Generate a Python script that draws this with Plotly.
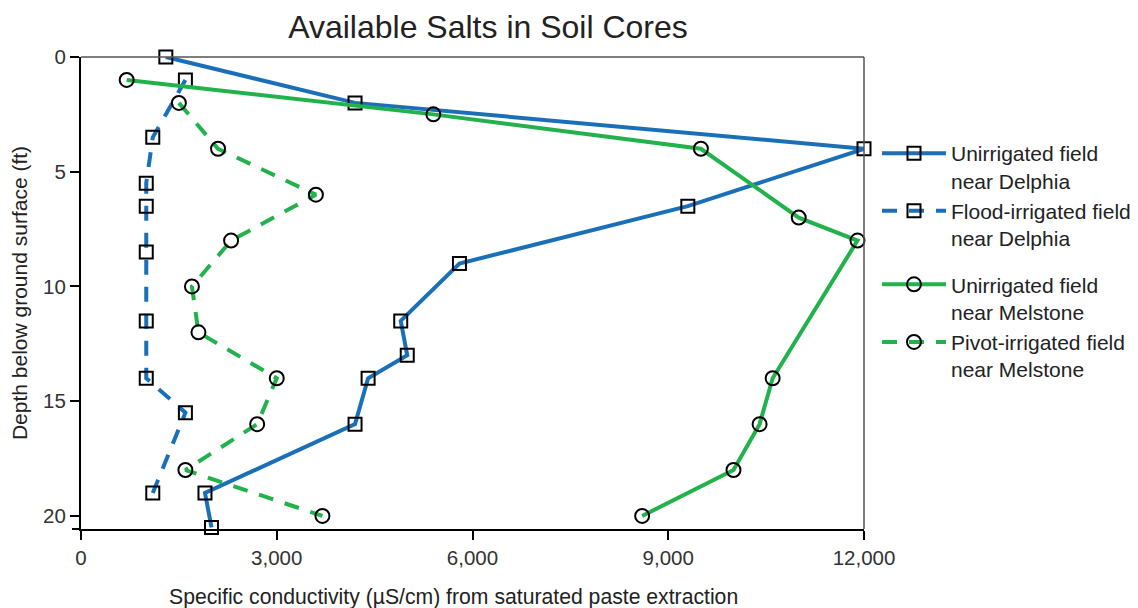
import plotly.graph_objects as go

# Unirrigated field near Delphia
ud_depth = [0, 2, 4, 6.5, 9, 11.5, 13, 14, 16, 19, 20.5]
ud_ec = [1300, 4200, 12000, 9300, 5800, 4900, 5000, 4400, 4200, 1900, 2000]

# Flood-irrigated field near Delphia
fd_depth = [1, 3.5, 5.5, 6.5, 8.5, 11.5, 14, 15.5, 19]
fd_ec = [1600, 1100, 1000, 1000, 1000, 1000, 1000, 1600, 1100]

# Unirrigated field near Melstone
um_depth = [1, 2.5, 4, 7, 8, 14, 16, 18, 20]
um_ec = [700, 5400, 9500, 11000, 11900, 10600, 10400, 10000, 8600]

# Pivot-irrigated field near Melstone
pm_depth = [2, 4, 6, 8, 10, 12, 14, 16, 18, 20]
pm_ec = [1500, 2100, 3600, 2300, 1700, 1800, 3000, 2700, 1600, 3700]

x_ticks = [0, 3000, 6000, 9000, 12000]
x_tick_labels = ["0", "3,000", "6,000", "9,000", "12,000"]
y_ticks = [0, 5, 10, 15, 20]

BLUE = "#1a70b8"
GREEN = "#22b24c"
FONT = "Arial, Liberation Sans, sans-serif"
DASH = "15px,12px"

fig = go.Figure()

def add(x, y, name, color, dash, symbol, size, group):
    fig.add_trace(go.Scatter(
        x=x, y=y, name=name, mode="lines+markers", cliponaxis=False,
        line=dict(color=color, width=4, dash=dash),
        marker=dict(symbol=symbol, size=size, color="black",
                    line=dict(width=2)),
        legendgroup=group,
    ))

add(ud_ec, ud_depth, "Unirrigated field<br>near Delphia", BLUE, "solid", "square-open", 13, "d")
add(fd_ec, fd_depth, "Flood-irrigated field<br>near Delphia", BLUE, DASH, "square-open", 13, "d")
add(um_ec, um_depth, "Unirrigated field<br>near Melstone", GREEN, "solid", "circle-open", 14, "m")
add(pm_ec, pm_depth, "Pivot-irrigated field<br>near Melstone", GREEN, DASH, "circle-open", 14, "m")

fig.update_layout(
    width=1130, height=600,
    margin=dict(l=73, r=274, t=49, b=79, autoexpand=False),
    paper_bgcolor="white", plot_bgcolor="white",
    font=dict(family=FONT, size=21, color="#222"),
    title=dict(text="Available Salts in Soil Cores", x=480/1130, xanchor="center",
               y=1-19/600, yanchor="middle", font=dict(size=32, color="#222")),
    showlegend=True,
    legend=dict(x=1.0166, xanchor="left", y=1-76/472, yanchor="top", valign="top",
                traceorder="grouped", tracegroupgap=16, itemwidth=64,
                font=dict(size=21, color="#222"), bgcolor="rgba(0,0,0,0)"),
    xaxis=dict(range=[0, 12000], tickvals=x_ticks, ticktext=x_tick_labels,
               ticks="outside", ticklen=9, tickwidth=2, tickcolor="black",
               showline=True, linecolor="black", linewidth=2,
               showgrid=False, zeroline=False,
               tickfont=dict(size=20.5, color="#333")),
    yaxis=dict(range=[20.57, 0], tickvals=y_ticks,
               ticks="outside", ticklen=9, tickwidth=2, tickcolor="black",
               showline=True, linecolor="black", linewidth=2,
               showgrid=False, zeroline=False,
               tickfont=dict(size=20.5, color="#333"),
               title=dict(text="Depth below ground surface (ft)", standoff=10,
                          font=dict(size=21, color="#222"))),
)

fig.add_annotation(text="Specific conductivity (µS/cm) from saturated paste extraction",
                   xref="paper", yref="paper", x=(445-73)/783, y=0, yshift=-68,
                   xanchor="center", yanchor="middle", showarrow=False,
                   font=dict(size=21.2, color="#222"))

# thin top and right frame lines
fig.add_shape(type="line", xref="paper", yref="paper", x0=0, x1=1, y0=1, y1=1,
              line=dict(color="#555", width=1.5))
fig.add_shape(type="line", xref="paper", yref="paper", x0=1, x1=1, y0=0, y1=1,
              line=dict(color="#555", width=1.5))
# bottom axis line extends slightly left of the y axis
fig.add_shape(type="line", xref="paper", yref="paper", x0=-9/783, x1=0, y0=0, y1=0,
              line=dict(color="black", width=2))

fig.write_html("out.html")
